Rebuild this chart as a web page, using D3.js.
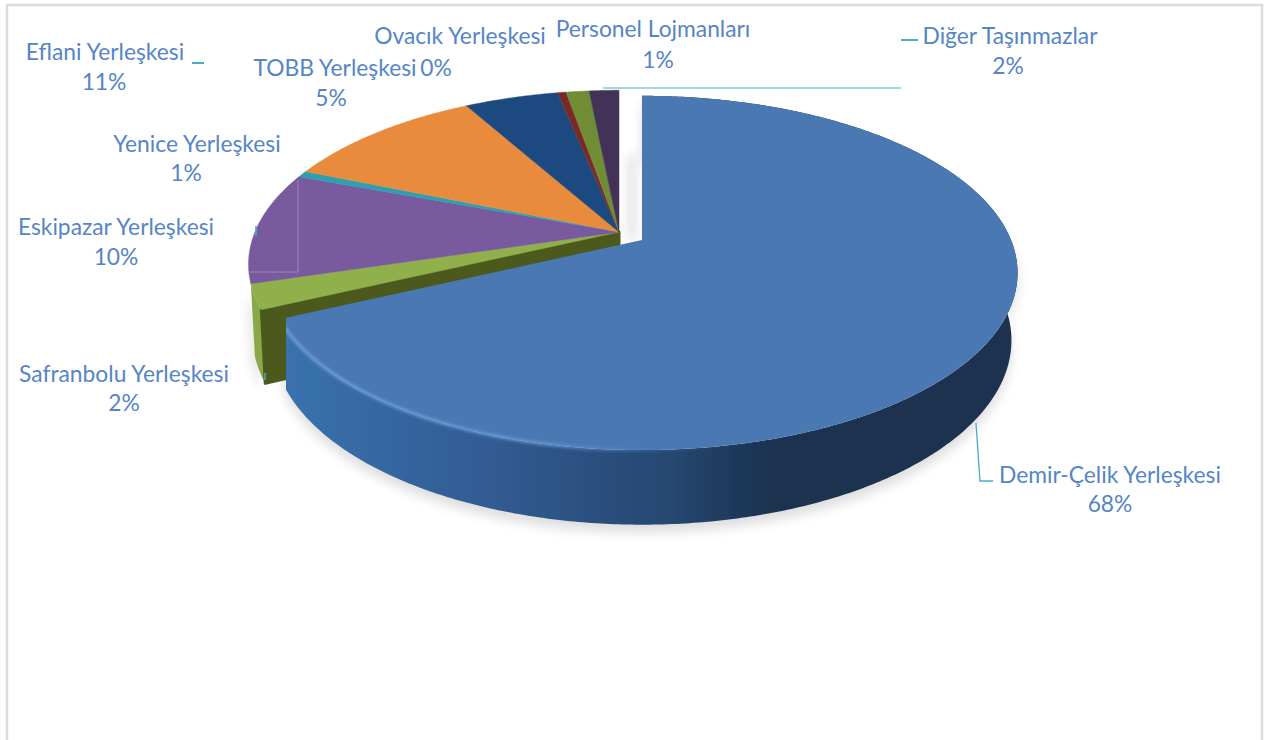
<!DOCTYPE html>
<html lang="tr">
<head>
<meta charset="utf-8">
<title>Yerleşke dağılımı</title>
<script src="https://cdn.jsdelivr.net/npm/d3@7"></script>
<style>
html,body{margin:0;padding:0;background:#fff;overflow:hidden}
svg{display:block}
text{font-family:Lato,"Open Sans",sans-serif;fill:#5585c6;font-size:22.8px;text-anchor:middle}
</style>
</head>
<body>
<svg id="chart" width="1266" height="740"></svg>
<script>
const categories = ["Demir-Çelik Yerleşkesi","Safranbolu Yerleşkesi","Eskipazar Yerleşkesi","Yenice Yerleşkesi","Eflani Yerleşkesi","TOBB Yerleşkesi","Ovacık Yerleşkesi","Personel Lojmanları","Diğer Taşınmazlar"];
const shares = [68,2.3,10.4,0.6,10.6,4.9,0.45,1.2,1.55];
const percentLabels = ["68%","2%","10%","1%","11%","5%","0%","1%","2%"];
const topColors = ["#4a78b2","#8fb04c","#7a5a9f","#2f9fb3","#e98b3e","#1f4a80","#7a2c28","#6f8c35","#433158"];
const wallColors = ["#2f5f96","#8aa84a","#5e4480","#207d8d","#b96a2a","#17375e","#5a1f1c","#54692a","#33243f"];
const cutColors = ["#23466f","#4b5a1b","#4a3565","#1a6370","#93521f","#122c4c","#46181a","#3f4f1e","#281c33"];

const nameAnchor = [[1110,483],[124,382],[116,235],[197,152],[105,60],[335,76],[460,44],[653,37],[1010,44]];
const pctAnchor  = [[1110,512],[124,411],[116,265],[186,181],[104,90],[331,106],[436,76],[658,68],[1008,74]];

const leaderLines = [
  {pts:[[976,423],[980,481],[993,481]],w:1.3},
  {pts:[[265,373],[265,380]],w:1.6},
  {pts:[[256,226],[256,236]],w:1.6},
  {pts:[[192,63],[204,63]],w:2},
  {pts:[[603,88],[901,88]],w:1.2},
  {pts:[[901,40],[918,40]],w:2}
];
const faintLines = [[[298,180],[298,272],[250,272]]];

const svg = d3.select("#chart");
const defs = svg.append("defs");
defs.append("filter").attr("id","soft").attr("x","-10%").attr("y","-10%").attr("width","120%").attr("height","120%")
  .append("feGaussianBlur").attr("stdDeviation",6);
defs.append("filter").attr("id","glow").attr("x","-5%").attr("y","-5%").attr("width","110%").attr("height","110%")
  .append("feGaussianBlur").attr("stdDeviation",1.4);
defs.append("filter").attr("id","raster").attr("x","-3%").attr("y","-3%").attr("width","106%").attr("height","106%")
  .append("feGaussianBlur").attr("stdDeviation",0.7);
defs.append("clipPath").attr("id","mainClip").append("rect")
  .attr("x",286).attr("y",0).attr("width",980).attr("height",740);
const sideGrad = defs.append("linearGradient").attr("id","side").attr("gradientUnits","userSpaceOnUse")
  .attr("x1",285).attr("x2",1018).attr("y1",0).attr("y2",0);
[[0,"#3a72ad"],[0.16,"#35659e"],[0.3,"#305a90"],[0.43,"#2b4f7e"],[0.53,"#264670"],[0.66,"#1b3350"],[1,"#1a3350"]].forEach(([o,c])=>sideGrad.append("stop").attr("offset",o).attr("stop-color",c));
const rimGrad = defs.append("linearGradient").attr("id","rim").attr("gradientUnits","userSpaceOnUse")
  .attr("x1",285).attr("x2",720).attr("y1",0).attr("y2",0);
[[0,"#6ea3de",1],[0.6,"#6a9bd6",0.9],[1,"#4a78b2",0]].forEach(([o,c,a])=>rimGrad.append("stop").attr("offset",o).attr("stop-color",c).attr("stop-opacity",a));

// frame
svg.append("path").attr("d","M7 742V5H1262V742").attr("fill","none").attr("stroke","#dcdcdc").attr("stroke-width",2.5);

const pie = d3.pie().sort(null).startAngle(0).endAngle(2*Math.PI);
const arcs = pie(shares);

const persp = 0.186;
const upper = {rx:369, s:171, dy:0};
const lower = {rx:363, s:178, dy:66};
const mainCentre = [642,240];
const restCentre = [619,232];
const restUpper = {rx:364, s:168, dy:0};
const restLower = {rx:360, s:176, dy:70};

function proj(theta, c, lvl){
  const u=Math.sin(theta), v=-Math.cos(theta), w=1-persp*v;
  return [c[0]+lvl.rx*u/w, c[1]+lvl.dy+lvl.s*v/w];
}
const line = d3.line();
function arcPts(a0,a1,c,lvl){
  const n=Math.max(2,Math.ceil(Math.abs(a1-a0)/0.01));
  return d3.range(n+1).map(i=>proj(a0+(a1-a0)*i/n,c,lvl));
}
function topFace(a,c,lvl){
  return line([[c[0],c[1]],...arcPts(a.startAngle,a.endAngle,c,lvl)])+"Z";
}
function outerWall(a0,a1,c,up,lvl){
  return line([...arcPts(a0,a1,c,up),...arcPts(a1,a0,c,lvl)])+"Z";
}
function radialWall(angle,c,up,lvl){
  return line([[c[0],c[1]],proj(angle,c,up),proj(angle,c,lvl),[c[0],c[1]+lvl.dy]])+"Z";
}

// soft drop shadow
const shadow = svg.append("g").attr("filter","url(#soft)").attr("fill","#000").attr("opacity",0.13);
shadow.append("path").attr("d",outerWall(arcs[0].startAngle,arcs[0].endAngle,[mainCentre[0],mainCentre[1]+8],upper,lower));
shadow.append("path").attr("d",outerWall(arcs[1].startAngle,arcs[1].endAngle,[restCentre[0]-3,restCentre[1]+6],restUpper,restLower));
shadow.append("path").attr("d",line([[628,155],[636,155],[636,240],[628,240]])+"Z");

const pieGroup = svg.append("g").attr("filter","url(#raster)");

// remaining slices
const rest = pieGroup.append("g");
rest.append("path").attr("d",outerWall(arcs[1].startAngle,arcs[1].endAngle,restCentre,restUpper,restLower)).attr("fill",wallColors[1]);
rest.append("path").attr("d",radialWall(arcs[1].startAngle,restCentre,restUpper,restLower)).attr("fill",cutColors[1]).attr("stroke",cutColors[1]).attr("stroke-linejoin","round").attr("stroke-width",3);
rest.selectAll("path.top").data(arcs.slice(1)).enter().append("path").attr("class","top")
  .attr("d",d=>topFace(d,restCentre,restUpper))
  .attr("fill",d=>topColors[d.index])
  .attr("stroke",d=>topColors[d.index]).attr("stroke-width",0.5);

// exploded main slice
const a = arcs[0];
const mainGroup = pieGroup.append("g").attr("clip-path","url(#mainClip)");
mainGroup.append("path").attr("d",outerWall(a.startAngle,a.endAngle,mainCentre,upper,lower)).attr("fill","url(#side)");
mainGroup.append("path").attr("d",topFace(a,mainCentre,upper)).attr("fill",topColors[0]);
mainGroup.append("path").attr("d",line(arcPts(a.startAngle+Math.PI*0.6,a.endAngle,mainCentre,upper)))
  .attr("fill","none").attr("stroke","url(#rim)").attr("stroke-width",3).attr("filter","url(#glow)");

// leader lines
svg.append("g").selectAll("path").data(leaderLines).enter().append("path")
  .attr("d",d=>line(d.pts)).attr("fill","none").attr("stroke","#4bacc6").attr("stroke-width",d=>d.w);
svg.append("g").selectAll("path").data(faintLines).enter().append("path")
  .attr("d",d=>line(d)).attr("fill","none").attr("stroke","#a593bd").attr("stroke-width",0.8);

// labels
svg.append("g").selectAll("text").data(categories).enter().append("text")
  .attr("x",(d,i)=>nameAnchor[i][0]).attr("y",(d,i)=>nameAnchor[i][1]).text(d=>d);
svg.append("g").selectAll("text").data(percentLabels).enter().append("text")
  .attr("x",(d,i)=>pctAnchor[i][0]).attr("y",(d,i)=>pctAnchor[i][1]).text(d=>d);
</script>
</body>
</html>
